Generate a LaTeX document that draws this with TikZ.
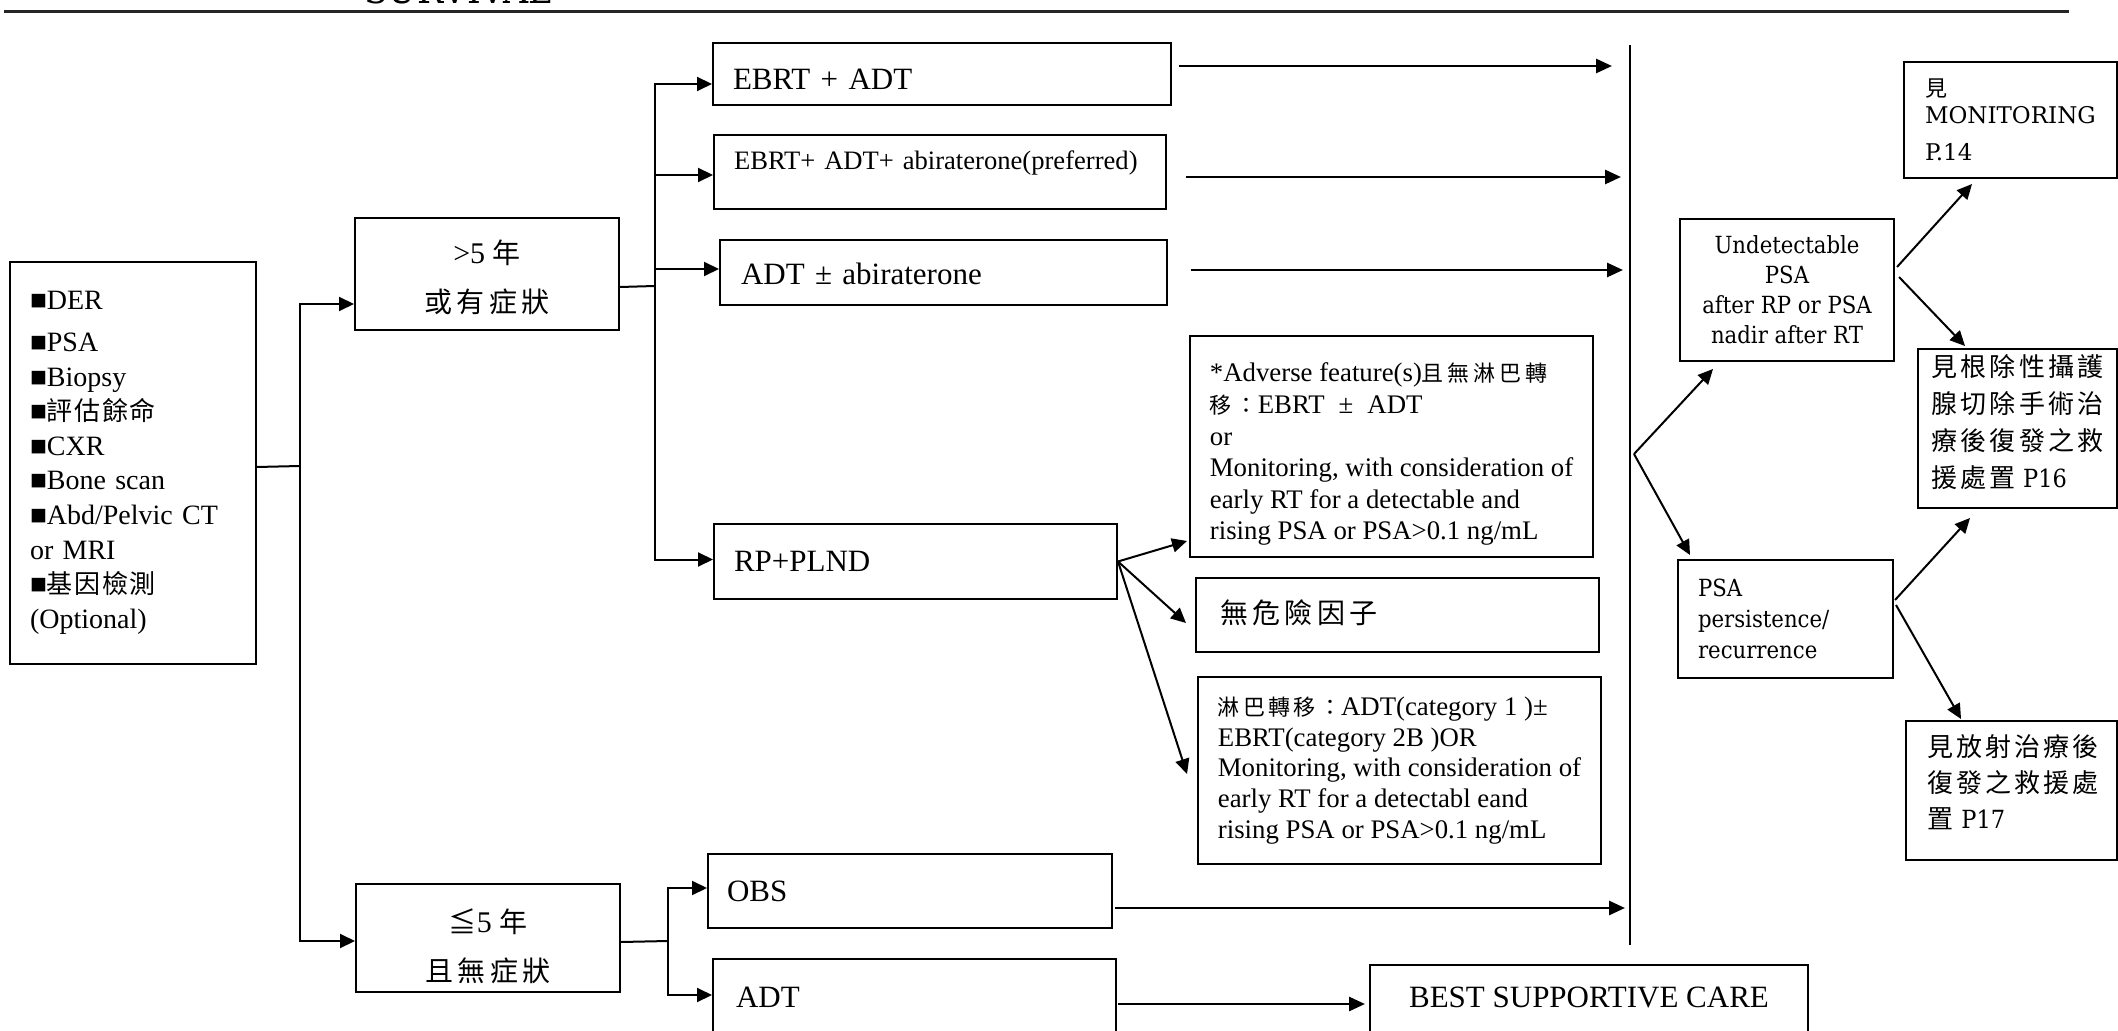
\documentclass[tikz,border=0pt]{standalone}
\usepackage{fontspec}
\setmainfont{Liberation Serif}
\newfontfamily\cjk{Noto Sans CJK TC}
\newfontfamily\wideserif[FakeStretch=0.9]{DejaVu Serif}
\newfontfamily\broadserif{DejaVu Serif}
\usetikzlibrary{arrows.meta}

\newcommand\fsz[2]{\fontsize{#1}{#2}\selectfont}
% CJK run: size, letter spacing (percent), text
\newcommand\cj[3]{{\cjk\fontsize{#1}{\the\baselineskip}\selectfont\addfontfeature{LetterSpace=#2}#3}}

\tikzset{
  box/.style={draw, line width=1pt, anchor=north west, inner ysep=2pt},
  stub/.style={line width=1pt},
  arr/.style={line width=1pt, -{Triangle[length=7.5pt,width=7pt]}},
  longarr/.style={line width=1.4pt, -{Triangle[length=8pt,width=7pt]}},
  barline/.style={line width=1pt},
  rule/.style={line width=1.5pt, black!85},
}

\begin{document}
\begin{tikzpicture}[x=0.5pt,y=-0.5pt]
\useasboundingbox (0,0) rectangle (2118,1031);
\clip (0,0) rectangle (2118,1031);

% page heading and rule
\node[anchor=base, inner sep=0pt, font=\wideserif\fsz{19.3}{20}] (hdr) at (458,3.5) {SURVIVAL};
\draw[rule] (4,12) -- (2069,12);

% work-up
\node[box, minimum width=123pt, minimum height=201pt, text width=103pt, inner xsep=10pt,
      align=left, font=\fsz{14}{17.3}] (lb) at (9,261)
  {■DER\\[3.5pt] ■PSA\\ ■Biopsy\\ ■\cj{13}{6}{評估餘命}\\ ■CXR\\ ■Bone scan\\
   ■Abd/Pelvic CT\\ or MRI\\ ■\cj{13}{6}{基因檢測}\\ (Optional)};

% life expectancy
\node[box, minimum width=132pt, minimum height=56pt, align=center, font=\fsz{15}{24.5}] (gt5) at (354,217)
  {\rule{0pt}{14.8pt}>5 \cj{14}{0}{年}\\\cj{14}{15}{或有症狀}};
\node[box, minimum width=132pt, minimum height=54pt, align=center, font=\fsz{15}{24.5}] (le5) at (355,883)
  {\rule{0pt}{19.8pt}\cj{14}{0}{≦}5 \cj{14}{0}{年}\\\cj{14}{15}{且無症狀}};

% treatment options
\node[box, minimum width=229pt, minimum height=31pt, text width=209pt, inner xsep=10pt, align=left,
      text height=16pt, text depth=0pt, font=\fsz{15.5}{18}] (e1) at (712,42) {EBRT + ADT};
\node[box, minimum width=226pt, minimum height=37pt, text width=206pt, inner xsep=10pt, align=left,
      text height=6pt, text depth=8pt, font=\fsz{13.3}{16}] (e2) at (713,134)
  {\mbox{EBRT+ ADT+ abiraterone(preferred)}};
\node[box, minimum width=223.5pt, minimum height=32.5pt, text width=202.5pt, inner xsep=10.5pt, align=left,
      text height=12.5pt, text depth=0pt, font=\fsz{15.5}{18}] (e3) at (719,239) {ADT ± abiraterone};
\node[box, minimum width=201.5pt, minimum height=37.5pt, text width=181.5pt, inner xsep=10pt, align=left,
      text height=9.5pt, text depth=0pt, font=\fsz{15.5}{18}] (rp) at (713,523) {RP+PLND};

% after prostatectomy
\node[box, minimum width=201.5pt, minimum height=110.5pt, align=left, font=\fsz{13.4}{15.8}] (adv) at (1189,335)
  {\rule{0pt}{17.3pt}*Adverse feature(s)\cj{11}{18}{且無淋巴轉}\\
   \cj{11}{18}{移：}EBRT\hspace{7pt}±\hspace{7pt}ADT\\
   or\\
   Monitoring, with consideration of\\
   early RT for a detectable and\\
   rising PSA or PSA>0.1 ng/mL};
\node[box, minimum width=201.5pt, minimum height=37pt, text width=177.5pt, inner xsep=12pt, align=left,
      text height=8pt, text depth=0pt] (nor) at (1195,577) {\cj{14}{16}{無危險因子}};
\node[box, minimum width=201.5pt, minimum height=93.5pt, align=left, font=\fsz{13.4}{15.4}] (lym) at (1197,676)
  {\cj{11}{15}{淋巴轉移：}ADT(category 1 )±\\
   EBRT(category 2B )OR\\
   Monitoring, with consideration of\\
   early RT for a detectabl eand\\
   rising PSA or PSA>0.1 ng/mL};

% short life expectancy branch
\node[box, minimum width=202pt, minimum height=37pt, text width=183pt, inner xsep=9.5pt, align=left,
      text height=10pt, text depth=0pt, font=\fsz{15.5}{18}] (obs) at (707,853) {OBS};
\node[box, minimum width=201.5pt, minimum height=39pt, text width=178.5pt, inner xsep=11.5pt, align=left,
      text height=9pt, text depth=0pt, font=\fsz{15.5}{18}] (adt) at (712,958) {ADT};
\node[box, minimum width=219pt, minimum height=39pt, align=center,
      text height=3pt, text depth=0pt, font=\fsz{15.5}{18}] (bsc) at (1369,964) {BEST SUPPORTIVE CARE};

% follow-up
\node[box, minimum width=107pt, minimum height=71pt, align=center, font=\wideserif\fsz{11.8}{15}] (und) at (1679,218)
  {Undetectable\\PSA\\after RP or PSA\\nadir after RT};
\node[box, minimum width=107.5pt, minimum height=59pt, text width=87.5pt, inner xsep=10pt, align=left,
      font=\wideserif\fsz{11.8}{15.3}] (psa) at (1677,559) {PSA\\persistence/\\recurrence};
\node[box, minimum width=106.5pt, minimum height=58pt, text width=85.5pt, inner xsep=10.5pt, align=left,
      font=\broadserif\fsz{11.5}{13.5}] (mon) at (1903,61) {\cj{11}{0}{見}\\MONITORING\\[5pt]P.14};
\node[box, minimum width=99.5pt, minimum height=79.5pt, align=left, font=\wideserif\fsz{12.5}{18.5}] (rps) at (1917,348)
  {\cj{13}{12}{見根除性攝護}\\\cj{13}{12}{腺切除手術治}\\\cj{13}{12}{療後復發之救}\\\cj{13}{12}{援處置} P16\rule[-8pt]{0pt}{1pt}};
\node[box, minimum width=105.5pt, minimum height=69.5pt, text width=84.5pt, inner xsep=10.5pt, align=left,
      font=\wideserif\fsz{12.5}{18}] (rts) at (1905,720)
  {\cj{13}{12}{見放射治療後}\\\cj{13}{12}{復發之救援處}\\\cj{13}{12}{置} P17\rule[-8.7pt]{0pt}{1pt}};

% branching from the work-up
\coordinate (j1) at (300,466);
\draw[stub] ([shift={(0,4)}]lb.east) -- (j1);
\draw[arr] (j1) |- ([shift={(0,30)}]gt5.west);
\draw[arr] (j1) |- ([shift={(0,3)}]le5.west);

% branching to the treatment options
\coordinate (j2) at (655,286);
\draw[stub] ([shift={(0,13)}]gt5.east) -- (j2);
\draw[arr] (j2) |- ([shift={(0,10)}]e1.west);
\draw[arr] (j2) |- ([shift={(0,3)}]e2.west);
\draw[arr] (j2) |- ([shift={(0,-3.5)}]e3.west);
\draw[arr] (j2) |- ([shift={(0,-2)}]rp.west);

\coordinate (j3) at (668,941);
\draw[stub] ([shift={(0,4)}]le5.east) -- (j3);
\draw[arr] (j3) |- ([shift={(0,-3)}]obs.west);
\draw[arr] (j3) |- ([shift={(0,-3)}]adt.west);

% collecting bar
\coordinate (bartop) at (1630,45);
\coordinate (barbot) at (1630,945);
\draw[barline] (bartop) -- (barbot);

\draw[longarr] ([shift={(7,-8)}]e1.east) coordinate (s1) -- ([shift={(-18,0)}]s1 -| bartop);
\draw[longarr] ([shift={(19,5)}]e2.east) coordinate (s2) -- ([shift={(-9,0)}]s2 -| bartop);
\draw[longarr] ([shift={(23,-2.5)}]e3.east) coordinate (s3) -- ([shift={(-7,0)}]s3 -| bartop);
\draw[longarr] ([shift={(2,17)}]obs.east) coordinate (s4) -- ([shift={(-5,0)}]s4 -| bartop);
\draw[longarr] ([shift={(1,6)}]adt.east) -- ([shift={(-4,0)}]bsc.west);

% after prostatectomy
\draw[arr] (rp.east) -- ([shift={(-2,-17)}]adv.south west);
\draw[arr] (rp.east) -- ([shift={(-9,8)}]nor.west);
\draw[arr] (rp.east) -- ([shift={(-10,3.5)}]lym.west);

% PSA follow-up
\coordinate (fork) at (1634,454);
\draw[arr] (fork) -- ([shift={(34,7)}]und.south west);
\draw[arr] (fork) -- ([shift={(13,-4)}]psa.north west);
\draw[arr] ([shift={(2,-23)}]und.east) -- ([shift={(69,5)}]mon.south west);
\draw[arr] ([shift={(4,-13)}]und.east) -- ([shift={(48,-2)}]rps.north west);
\draw[arr] ([shift={(1,-19)}]psa.east) -- ([shift={(53,9)}]rps.south west);
\draw[arr] ([shift={(2,-14)}]psa.east) -- ([shift={(56,-1)}]rts.north west);
\end{tikzpicture}
\end{document}
